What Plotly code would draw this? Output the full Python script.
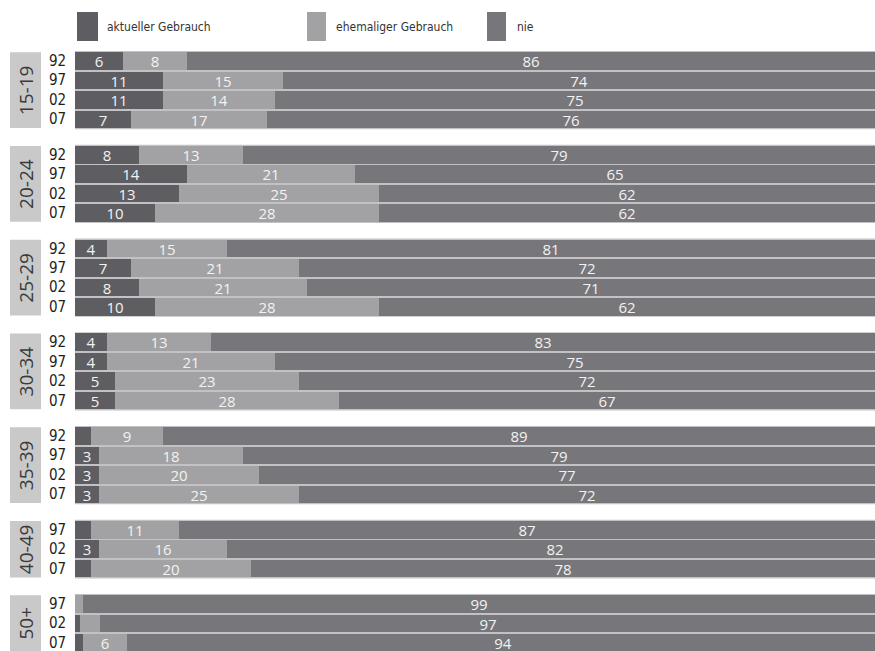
import plotly.graph_objects as go

groups = ["15-19", "20-24", "25-29", "30-34", "35-39", "40-49", "50+"]
years = [["92", "97", "02", "07"]] * 5 + [["97", "02", "07"]] * 2
aktuell = [[6, 11, 11, 7], [8, 14, 13, 10], [4, 7, 8, 10], [4, 4, 5, 5],
           [2, 3, 3, 3], [2, 3, 2], [0, 0.6, 1]]
ehemalig = [[8, 15, 14, 17], [13, 21, 25, 28], [15, 21, 21, 28], [13, 21, 23, 28],
            [9, 18, 20, 25], [11, 16, 20], [1, 2.5, 5.5]]
nie = [[86, 74, 75, 76], [79, 65, 62, 62], [81, 72, 71, 62], [83, 75, 72, 67],
       [89, 79, 77, 72], [87, 82, 78], [99, 97, 94]]
series_names = ["aktueller Gebrauch", "ehemaliger Gebrauch", "nie"]
colors = ["#5e5e62", "#a2a2a4", "#77777b"]

W, H = 875, 651
GAP = 1.82  # spacing between groups in row units

pos = []
group_pos = []
p = 0.0
for gi, yrs in enumerate(years):
    rows = []
    for j in range(len(yrs)):
        rows.append(p)
        p += 1
    group_pos.append(rows)
    pos.extend(rows)
    p += GAP - 1


def flat(a):
    return [v for g in a for v in g]


yvals = [-v for v in pos]


def lab(v):
    return str(int(round(v))) if v >= 3 else ""


fig = go.Figure()
for name, data, col in zip(series_names, [aktuell, ehemalig, nie], colors):
    vals = flat(data)
    fig.add_trace(go.Bar(
        x=vals, y=yvals, orientation="h", name=name,
        marker=dict(color=col, line=dict(width=0)),
        width=0.9,
        text=[lab(v) for v in vals], textposition="inside",
        insidetextanchor="middle", textangle=0,
        textfont=dict(color="#f2f2f2", size=15, family="Open Sans"),
        hoverinfo="skip", showlegend=False,
    ))

px_per_unit = 19.45
x_left = 75
ymax = 61 / px_per_unit
yrng = [ymax - H / px_per_unit, ymax]
xrng = [-x_left / 8, (W - x_left) / 8]


def xd(px):
    return (px - x_left) / 8


shapes = []
annotations = []
for gi, g in enumerate(groups):
    rows = group_pos[gi]
    top = -rows[0] + 0.45
    bot = -rows[-1] - 0.45
    shapes.append(dict(type="rect", xref="x", yref="y", x0=xd(10), x1=xd(41),
                       y0=bot, y1=top, fillcolor="#c9c9c9", line=dict(width=0), layer="below"))
    # light separator band behind the group's bars
    shapes.append(dict(type="rect", xref="x", yref="y", x0=0, x1=100,
                       y0=bot - 0.06, y1=top + 0.06, fillcolor="#c2c2c4",
                       line=dict(width=0), layer="below"))
    annotations.append(dict(x=xd(26), y=(top + bot) / 2, xref="x", yref="y", text=g,
                            showarrow=False, textangle=-90,
                            font=dict(size=19, color="#3a3a3a", family="Open Sans")))
    for r, yr in zip(rows, years[gi]):
        annotations.append(dict(x=xd(68), y=-r, xref="x", yref="y", text=yr,
                                showarrow=False, xanchor="right", yanchor="middle",
                                font=dict(size=15, color="#1e1e1e",
                                          family="Liberation Sans Narrow, DejaVu Sans Condensed, Open Sans")))

leg = [(77, 98, 105), (307, 326, 334), (487, 506, 515)]
for (x0, x1, tx), name, col in zip(leg, series_names, colors):
    shapes.append(dict(type="rect", xref="paper", yref="paper",
                       x0=x0 / W, x1=x1 / W,
                       y0=1 - 41 / H, y1=1 - 12 / H,
                       fillcolor=col, line=dict(width=0)))
    annotations.append(dict(x=tx / W, y=1 - 27 / H, xref="paper", yref="paper",
                            text=name, showarrow=False, xanchor="left", yanchor="middle",
                            font=dict(size=12, color="#333",
                                      family="Liberation Sans Narrow, DejaVu Sans Condensed, Open Sans")))

fig.update_layout(
    width=W, height=H, margin=dict(l=0, r=0, t=0, b=0),
    barmode="stack", bargap=0,
    plot_bgcolor="white", paper_bgcolor="white",
    xaxis=dict(range=xrng, visible=False, fixedrange=True),
    yaxis=dict(range=yrng, visible=False, fixedrange=True),
    shapes=shapes, annotations=annotations,
    uniformtext=dict(minsize=15, mode="show"),
    showlegend=False,
)
fig.write_html(
    "out.html",
    config={"displayModeBar": False},
    post_script="document.body.style.margin='0';document.body.style.overflow='hidden';",
)
